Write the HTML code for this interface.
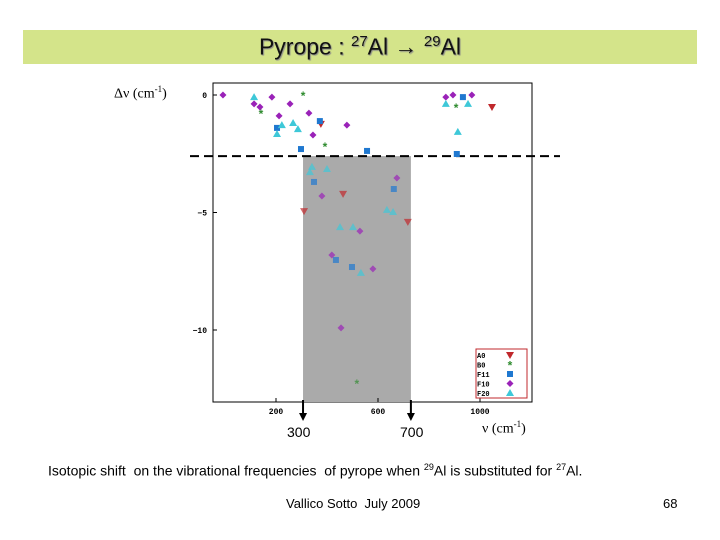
<!DOCTYPE html>
<html><head><meta charset="utf-8"><style>
body{margin:0;width:720px;height:540px;background:#fff;position:relative;overflow:hidden;font-family:"Liberation Sans",sans-serif}
.abs{position:absolute;white-space:nowrap}
</style></head><body>
<div class="abs" style="left:23px;top:30px;width:674px;height:34px;background:#d4e48a"></div>
<div class="abs" style="left:0;width:720px;top:33px;text-align:center;font-size:23px;color:#111;text-shadow:1px 1px 1px #888">Pyrope : <sup style="font-size:15px">27</sup>Al → <sup style="font-size:15px">29</sup>Al</div>
<svg class="abs" style="left:0;top:0" width="720" height="540">
<g id="g"></g>
</svg>
<div class="abs" style="left:114px;top:84px;font-family:'Liberation Serif',serif;font-size:14px">Δν (cm<sup style="font-size:9px">-1</sup>)</div>
<div class="abs" style="left:482px;top:419px;font-family:'Liberation Serif',serif;font-size:14px">ν (cm<sup style="font-size:9px">-1</sup>)</div>
<div class="abs" style="left:287px;top:424px;font-size:14px">300</div>
<div class="abs" style="left:400px;top:424px;font-size:14px">700</div>
<div class="abs" style="left:48px;top:462px;font-size:14px">Isotopic shift&nbsp; on the vibrational frequencies&nbsp; of pyrope when <sup style="font-size:9px">29</sup>Al is substituted for <sup style="font-size:9px">27</sup>Al.</div>
<div class="abs" style="left:286px;top:496px;font-size:13px">Vallico Sotto&nbsp; July 2009</div>
<div class="abs" style="left:663px;top:496px;font-size:13px">68</div>
<script>
const seriesNames=["A0","B0","F11","F10","F20"];
const a0X=[376,1047,310,463,717];
const a0Y=[-1.23,-0.51,-4.94,-4.21,-5.40];
const b0X=[141,306,392,906,517];
const b0Y=[-0.77,0,-2.17,-0.51,-12.26];
const f11X=[204,372,298,557,933,909,349,662,435,498];
const f11Y=[-1.40,-1.11,-2.30,-2.38,-0.09,-2.51,-3.70,-4.00,-7.02,-7.32];
const f10X=[-8,114,137,184,212,255,329,345,478,866,894,968,380,674,529,419,580,455];
const f10Y=[0,-0.38,-0.51,-0.09,-0.89,-0.38,-0.77,-1.70,-1.28,-0.09,0,0,-4.30,-3.53,-5.79,-6.81,-7.40,-9.91];
const f20X=[114,223,204,267,286,866,953,913,341,333,400,635,659,451,502,533];
const f20Y=[-0.09,-1.28,-1.66,-1.19,-1.45,-0.38,-0.38,-1.57,-3.06,-3.28,-3.15,-4.89,-4.98,-5.62,-5.62,-7.57];
const xTicks=[200,600,1000];
const yTicks=[0,-5,-10];
const bandRange=[306,729];
const cutoff=-2.6;

const sx=v=>225+0.255*v, sy=d=>95-23.5*d;
const NS="http://www.w3.org/2000/svg", g=document.getElementById('g');
function mk(t,a){const e=document.createElementNS(NS,t);for(const k in a)e.setAttribute(k,a[k]);g.appendChild(e);return e;}
let e;
e=mk('rect',{x:213,y:83,width:319,height:319,fill:'#fff',stroke:'#000','stroke-width':1});


e=mk('rect',{x:sx(bandRange[0]),y:sy(cutoff),width:sx(bandRange[1])-sx(bandRange[0]),height:402-sy(cutoff),fill:'#aaaaaa'});


e=mk('line',{x1:190,x2:560,y1:sy(cutoff),y2:sy(cutoff),stroke:'#000','stroke-width':2,'stroke-dasharray':'9,5'});


xTicks.forEach(t=>{mk('line',{x1:sx(t),x2:sx(t),y1:402,y2:398,stroke:'#000'});
 e=mk('text',{x:sx(t),y:414,'font-size':8,'font-family':'Liberation Mono,monospace','font-weight':'bold','text-anchor':'middle'});e.textContent=t;
 
 });
yTicks.forEach(t=>{mk('line',{x1:213,x2:217,y1:sy(t),y2:sy(t),stroke:'#000'});
 e=mk('text',{x:207,y:sy(t)+3,'font-size':8,'font-family':'Liberation Mono,monospace','font-weight':'bold','text-anchor':'end'});e.textContent=t===0?'0':(t===-5?'−5':'−10');
 
 });
[bandRange[0],bandRange[1]].forEach(v=>{const x=sx(v);mk('line',{x1:x,x2:x,y1:400,y2:415,stroke:'#000','stroke-width':2});
 e=mk('path',{d:`M${x-4} ${413}L${x+4} 413L${x} 421Z`,fill:'#000'});
 
 });
const styles={A0:'#c0282c',B0:'#2e8b2e',F11:'#1f78d0',F10:'#9a22b8',F20:'#3ec8d8'};
function marker(s,x,y){let el;const c=styles[s];
 if(s==='A0')el=mk('path',{d:`M${x-4} ${y-3}L${x+4} ${y-3}L${x} ${y+4}Z`,fill:c});
 else if(s==='B0'){el=mk('text',{x:x,y:y+5,'font-size':12,'text-anchor':'middle',fill:c,'font-weight':'bold'});el.textContent='*';}
 else if(s==='F11')el=mk('rect',{x:x-3,y:y-3,width:6,height:6,fill:c});
 else if(s==='F10')el=mk('path',{d:`M${x} ${y-3.5}L${x+3.5} ${y}L${x} ${y+3.5}L${x-3.5} ${y}Z`,fill:c});
 else el=mk('path',{d:`M${x} ${y-4}L${x+4} ${y+3}L${x-4} ${y+3}Z`,fill:c});
 return el;}
const all=[["A0",a0X,a0Y],["B0",b0X,b0Y],["F11",f11X,f11Y],["F10",f10X,f10Y],["F20",f20X,f20Y]];
all.forEach(([s,X,Y])=>X.forEach((v,i)=>{const el=marker(s,sx(v),sy(Y[i]));
 
 
 const x=sx(v),y=sy(Y[i]),inBand=v>=bandRange[0]&&v<=bandRange[1]&&Y[i]<cutoff;if(inBand)el.setAttribute('opacity','0.7');}));
e=mk('rect',{x:476,y:349,width:51,height:49,fill:'#fff',stroke:'#c0282c'});


const legLabels=["A0","B0","F11","F10","F20"];
legLabels.forEach((s,i)=>{const y=355+i*9.5;
 e=mk('text',{x:477,y:y+3,'font-size':7,'font-family':'Liberation Mono,monospace','font-weight':'bold'});e.textContent=s;
 
 
 marker(s,510,y);});
</script>
</body></html>
